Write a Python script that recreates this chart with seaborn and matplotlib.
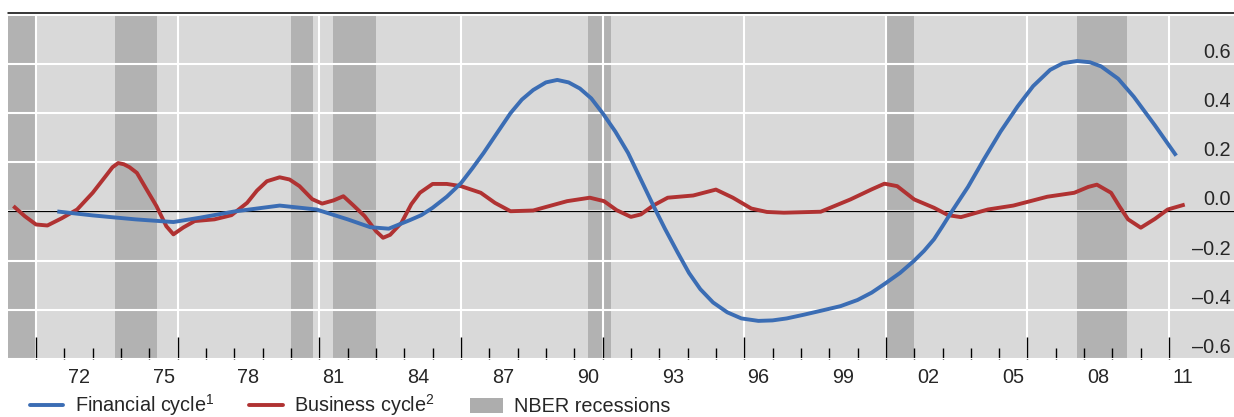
import matplotlib
matplotlib.use("Agg")
import matplotlib.pyplot as plt
import matplotlib.transforms as mtransforms
from matplotlib.lines import Line2D
from matplotlib.patches import Patch
import seaborn as sns
import pandas as pd

# ---------------- data ----------------
fin_year = [1971.75, 1973.0, 1974.5, 1975.85, 1976.8, 1978.0, 1979.6, 1980.9, 1982.0,
            1982.8, 1983.45, 1984.2, 1984.6, 1985.0, 1985.5, 1986.0, 1986.4, 1986.8,
            1987.25, 1987.75, 1988.15, 1988.55, 1989.0, 1989.4, 1989.8, 1990.2, 1990.6,
            1991.0, 1991.45, 1991.9, 1992.35, 1992.8, 1993.2, 1993.65, 1994.05, 1994.45,
            1994.9, 1995.4, 1995.9, 1996.5, 1997.0, 1997.5, 1998.1, 1998.7, 1999.4,
            2000.0, 2000.5, 2000.95, 2001.5, 2002.0, 2002.35, 2002.7, 2003.0, 2003.3,
            2003.9, 2004.45, 2005.05, 2005.65, 2006.2, 2006.8, 2007.25, 2007.75, 2008.2,
            2008.6, 2009.2, 2009.75, 2010.5, 2011.25]
fin_val = [0.0, -0.016, -0.032, -0.043, -0.025, 0.0, 0.024, 0.008, -0.032,
           -0.064, -0.07, -0.035, -0.015, 0.015, 0.06, 0.115, 0.175, 0.238,
           0.315, 0.40, 0.455, 0.494, 0.525, 0.535, 0.525, 0.50, 0.46,
           0.40, 0.325, 0.238, 0.13, 0.022, -0.07, -0.167, -0.25, -0.316,
           -0.37, -0.41, -0.435, -0.445, -0.443, -0.435, -0.42, -0.404, -0.385,
           -0.36, -0.33, -0.295, -0.25, -0.20, -0.16, -0.113, -0.06, -0.005,
           0.10, 0.21, 0.325, 0.427, 0.51, 0.576, 0.603, 0.612, 0.607,
           0.59, 0.54, 0.467, 0.35, 0.227]

bus_year = [1970.2, 1970.6, 1971.0, 1971.4, 1971.9, 1972.45, 1973.0, 1973.5, 1973.7,
            1973.9, 1974.1, 1974.3, 1974.56, 1974.9, 1975.25, 1975.6, 1975.85, 1976.2,
            1976.6, 1977.3, 1977.9, 1978.45, 1978.8, 1979.15, 1979.6, 1979.95, 1980.3,
            1980.75, 1981.1, 1981.5, 1981.85, 1982.2, 1982.6, 1983.0, 1983.25, 1983.5,
            1983.9, 1984.25, 1984.55, 1985.0, 1985.5, 1986.0, 1986.7, 1987.2, 1987.75,
            1988.55, 1989.75, 1990.55, 1991.05, 1991.5, 1992.0, 1992.35, 1992.8, 1993.3,
            1994.2, 1995.0, 1995.6, 1996.25, 1996.8, 1997.4, 1998.7, 1999.75, 2000.5,
            2000.95, 2001.4, 2002.0, 2002.7, 2003.2, 2003.65, 2004.6, 2005.5, 2006.7,
            2007.65, 2008.15, 2008.45, 2008.95, 2009.25, 2009.55, 2010.0, 2010.5, 2010.95,
            2011.55]
bus_val = [0.022, -0.019, -0.053, -0.057, -0.028, 0.008, 0.076, 0.15, 0.18,
           0.197, 0.192, 0.18, 0.157, 0.09, 0.022, -0.06, -0.093, -0.065,
           -0.039, -0.032, -0.015, 0.035, 0.085, 0.123, 0.139, 0.13, 0.103,
           0.05, 0.032, 0.045, 0.062, 0.025, -0.019, -0.08, -0.107, -0.095,
           -0.046, 0.03, 0.076, 0.112, 0.112, 0.103, 0.076, 0.035, 0.001,
           0.004, 0.042, 0.056, 0.042, 0.005, -0.022, -0.012, 0.025, 0.056,
           0.065, 0.089, 0.056, 0.012, -0.002, -0.005, -0.001, 0.049, 0.09,
           0.113, 0.103, 0.049, 0.015, -0.015, -0.023, 0.008, 0.024, 0.06,
           0.076, 0.1, 0.109, 0.076, 0.02, -0.032, -0.066, -0.03, 0.008,
           0.028]

rec_start = [1969.9, 1973.78, 1980.0, 1981.5, 1990.5, 2001.03, 2007.75]
rec_end = [1970.96, 1975.27, 1980.78, 1983.0, 1991.28, 2002.0, 2009.5]

label_pos = [1972.5, 1975.5, 1978.5, 1981.5, 1984.5, 1987.5, 1990.5, 1993.5,
             1996.5, 1999.5, 2002.5, 2005.5, 2008.5, 2011.5]
label_txt = ["72", "75", "78", "81", "84", "87", "90", "93", "96", "99",
             "02", "05", "08", "11"]
major_years = list(range(1971, 2012, 5))
minor_years = list(range(1971, 2012))
y_ticks = [-0.6, -0.4, -0.2, 0.0, 0.2, 0.4, 0.6]
y_labels = ["\u20130.6", "\u20130.4", "\u20130.2", "0.0", "0.2", "0.4", "0.6"]

series_names = ["Financial cycle$^1$", "Business cycle$^2$", "NBER recessions"]

# ---------------- style ----------------
BLUE = "#3b6db4"
RED = "#b03232"
BG = "#d9d9d9"
REC = "#b2b2b2"

sns.set_style("white")
plt.rcParams["font.family"] = ["Liberation Sans", "DejaVu Sans"]
plt.rcParams["mathtext.fontset"] = "custom"
plt.rcParams["mathtext.rm"] = "Liberation Sans"
plt.rcParams["mathtext.it"] = "Liberation Sans"
plt.rcParams["mathtext.default"] = "regular"
FS = 14.3

W, H = 1234, 417
fig = plt.figure(figsize=(W / 100, H / 100), dpi=100)
ax = fig.add_axes([8 / W, 1 - 359 / H, 1 - 8 / W, (359 - 16) / H])
ax.set_facecolor(BG)

for s, e in zip(rec_start, rec_end):
    ax.axvspan(s, e, color=REC, lw=0, zorder=1)

fin_df = pd.DataFrame({"year": fin_year, "value": fin_val})
bus_df = pd.DataFrame({"year": bus_year, "value": bus_val})
sns.lineplot(data=bus_df, x="year", y="value", ax=ax, color=RED, lw=2.8,
             zorder=3, sort=False)
sns.lineplot(data=fin_df, x="year", y="value", ax=ax, color=BLUE, lw=2.8,
             zorder=4, sort=False)
for ln in ax.get_lines():
    ln.set_solid_joinstyle("round")
    ln.set_solid_capstyle("butt")

ax.axhline(0, color="black", lw=0.9, zorder=2.6)

ax.set_xlim(1970.01, 2013.29)
ax.set_ylim(-0.6, 0.795)

for sp in ax.spines.values():
    sp.set_visible(False)

# x ticks
ax.set_xticks(major_years)
ax.set_xticks(minor_years, minor=True)
ax.tick_params(axis="x", which="major", direction="in", length=16, width=1.0,
               color="black", labelbottom=False, bottom=True)
ax.tick_params(axis="x", which="minor", direction="in", length=8, width=1.0,
               color="black", labelbottom=False, bottom=True)
ax.set_axisbelow("line")
ax.grid(True, which="major", axis="both", color="white", lw=1.5)

sec = ax.secondary_xaxis("bottom")
sec.set_xticks(label_pos, label_txt)
sec.tick_params(axis="x", length=0, pad=6.5, labelsize=FS)
sec.spines["bottom"].set_visible(False)

# y ticks (right, inside, above the gridline)
ax.yaxis.tick_right()
ax.set_yticks(y_ticks, y_labels)
ax.set_xlabel("")
ax.set_ylabel("")
ax.tick_params(axis="y", length=0, pad=-2.5, labelsize=FS)
offset = mtransforms.ScaledTranslation(0, 6 / 100, fig.dpi_scale_trans)
for lab in ax.get_yticklabels():
    lab.set_ha("right")
    lab.set_va("baseline")
    lab.set_transform(lab.get_transform() + offset)

# top rule
fig.add_artist(Line2D([8 / W, 1.0], [1 - 13 / H, 1 - 13 / H], color="black",
                      lw=1.1, transform=fig.transFigure))

handles = [Line2D([0], [0], color=BLUE, lw=2.8),
           Line2D([0], [0], color=RED, lw=2.8),
           Patch(facecolor="#adadad", edgecolor="none")]
fig.legend(handles, series_names, loc="center left",
           bbox_to_anchor=(30 / W, 1 - 405.5 / H), ncol=3, frameon=False,
           fontsize=FS, handlelength=1.68, handletextpad=0.58,
           columnspacing=1.75, borderpad=0, borderaxespad=0, handleheight=0.75)

fig.savefig("out.png", dpi=100)
